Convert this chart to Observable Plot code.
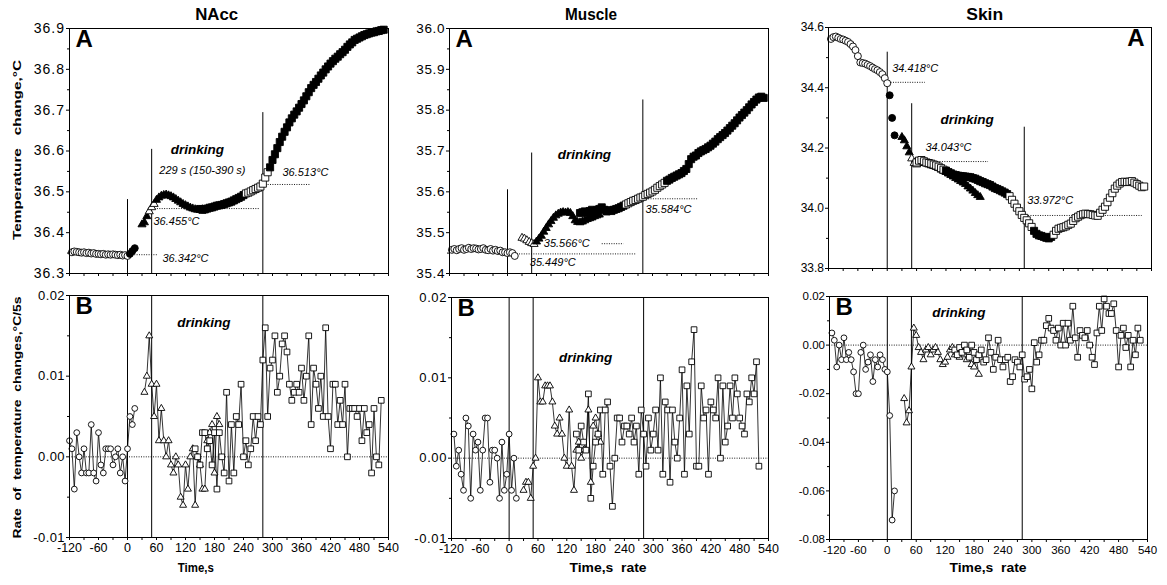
<!DOCTYPE html>
<html><head><meta charset="utf-8">
<script src="https://cdn.jsdelivr.net/npm/d3@7"></script>
<script src="https://cdn.jsdelivr.net/npm/@observablehq/plot@0.6"></script>
<style>
body{margin:0;background:#fff;}
#root{position:relative;width:1167px;height:585px;overflow:hidden;font-family:"Liberation Sans",Arial,sans-serif;}
#root > svg{position:absolute;}
</style></head><body><div id="root"></div>
<script>
const STEP = 5; // sampling interval (s)
const xTickLabels = [-120,-60,0,60,120,180,240,300,360,420,480,540];
const eventTimes = [0, 50, 280];

// ---------- NAcc, panel A (temperature, °C) ----------
const naccA_circleOpen = [36.352,36.354,36.353,36.352,36.351,36.352,36.350,36.351,36.349,36.350,36.348,36.348,36.347,36.348,36.346,36.347,36.346,36.347,36.346,36.345,36.346,36.344,36.345,36.343];
const naccA_circleFilled = [36.348,36.355,36.362];
const naccA_triFilled = [36.420,36.425,36.440];
const naccA_triOpen = [36.452,36.462,36.470];
const naccA_triFilled2 = [36.480,36.486,36.490,36.492,36.493,36.491,36.489,36.486,36.482,36.478,36.474,36.470,36.467,36.464,36.461,36.459,36.457,36.456,36.456,36.457];
const naccA_sqFilled = [36.458,36.456,36.457,36.459,36.461,36.462,36.464,36.466,36.467,36.468,36.470,36.472,36.474,36.476,36.479,36.482,36.485,36.488,36.492];
const naccA_sqOpen = [36.496,36.498,36.501,36.504,36.507,36.510,36.513,36.520,36.535,36.548];
const naccA_sqFilled2 = [36.560,36.578,36.592,36.607,36.622,36.635,36.647,36.658,36.670,36.680,36.689,36.697,36.706,36.715,36.724,36.734,36.744,36.754,36.762,36.769,36.777,36.785,36.792,36.800,36.807,36.814,36.820,36.826,36.831,36.837,36.842,36.848,36.855,36.861,36.866,36.872,36.875,36.878,36.881,36.884,36.886,36.888,36.890,36.891,36.893,36.894,36.896,36.897];

// ---------- Muscle, panel A ----------
const muscA_circleOpen = [35.458,35.460,35.457,35.460,35.462,35.458,35.460,35.463,35.460,35.462,35.461,35.459,35.460,35.462,35.458,35.457,35.460,35.456,35.458,35.455,35.456,35.452,35.452,35.450,35.452,35.450,35.443];
const muscA_triOpen = [35.487,35.485,35.481,35.477,35.474,35.472];
const muscA_triFilled = [35.478,35.485,35.492,35.502,35.511,35.520,35.528,35.536,35.542,35.546,35.549,35.550,35.549,35.550,35.548,35.540,35.530,35.526,35.525,35.527,35.530,35.533,35.535,35.537,35.540,35.542,35.544];
const muscA_sqFilled = [35.548,35.550,35.552,35.549,35.553,35.556,35.551,35.555,35.558,35.562,35.556,35.552,35.555,35.553,35.556,35.558,35.560,35.563,35.566];
const muscA_sqOpen = [35.569,35.572,35.575,35.578,35.580,35.583,35.586,35.588,35.592,35.595,35.598,35.601,35.605,35.610,35.614,35.618,35.622];
const muscA_sqFilled2 = [35.627,35.630,35.634,35.637,35.640,35.643,35.646,35.651,35.656,35.668,35.680,35.686,35.689,35.695,35.699,35.702,35.705,35.709,35.713,35.718,35.723,35.729,35.734,35.739,35.744,35.750,35.756,35.762,35.768,35.775,35.782,35.788,35.794,35.800,35.807,35.814,35.820,35.826,35.831,35.833,35.830];

// ---------- Skin, panel A ----------
const skinA_circleOpen = [34.562,34.568,34.570,34.566,34.562,34.560,34.556,34.552,34.545,34.537,34.525,34.505,34.484,34.482,34.480,34.476,34.472,34.467,34.462,34.458,34.452,34.445,34.432,34.415];
const skinA_circleFilled = [34.375,34.300,34.242];
const skinA_triFilled = [34.236,34.225,34.205,34.185];
const skinA_triOpen = [34.165,34.150,34.145];
const skinA_triFilled2 = [34.150,34.152,34.150,34.148,34.145,34.142,34.140,34.137,34.133,34.128,34.124,34.120,34.115,34.110,34.105,34.100,34.095,34.090,34.085,34.080,34.072,34.065,34.058,34.050,34.043,34.037];
const skinA_sqOpen = [34.152,34.158,34.160,34.156,34.152,34.150,34.148,34.145,34.142,34.138,34.133,34.128];
const skinA_sqFilled = [34.125,34.120,34.116,34.112,34.110,34.108,34.107,34.106,34.105,34.104,34.103,34.100,34.098,34.094,34.090,34.087,34.083,34.080,34.077,34.072,34.067,34.064,34.060,34.056,34.052,34.047];
const skinA_sqOpen2 = [34.040,34.028,34.015,34.002,33.990,33.978,33.968,33.960,33.950,33.938];
const skinA_sqFilled2 = [33.925,33.915,33.910,33.908,33.905,33.902,33.900,33.905];
const skinA_sqOpen3 = [33.912,33.925,33.932,33.935,33.937,33.940,33.945,33.949,33.958,33.967,33.972,33.977,33.980,33.982,33.981,33.980,33.978,33.976,33.975,33.985,33.995,34.005,34.020,34.035,34.050,34.065,34.075,34.082,34.087,34.088,34.087,34.088,34.090,34.085,34.080,34.075,34.070,34.072];

// ---------- panel B: rate of temperature change (°C / 5 s) ----------
const naccB_circles = [0.002,0.001,-0.004,0.003,0.000,-0.002,0.001,-0.002,-0.002,0.004,-0.002,-0.003,0.003,-0.001,-0.002,0.001,0.001,0.001,-0.001,0.000,0.001,-0.002,0.000,-0.003,0.001,0.005,0.004,0.006];
const naccB_triangles = [0.008,0.010,0.015,0.009,0.005,0.009,0.002,0.006,0.002,0.000,0.002,-0.001,-0.002,0.000,-0.001,-0.005,-0.006,-0.001,-0.004,0.000,0.001,-0.006,0.000,-0.001,-0.004,-0.004,0.002,0.003,0.004,-0.002,0.005,0.004];
const naccB_squares = [0.001,0.000,-0.001,0.003,0.003,0.001,0.002,-0.001,0.003,-0.004,0.003,0.000,-0.002,0.008,-0.003,0.004,-0.002,0.005,0.004,0.009,0.000,0.002,-0.001,0.001,0.005,0.002,0.005,0.004,0.012,0.016,0.005,0.011,0.012,0.015,0.008,0.010,0.014,0.015,0.013,0.009,0.007,0.008,0.009,0.008,0.011,0.007,0.010,0.015,0.004,0.011,0.009,0.006,0.010,0.005,0.016,0.005,0.001,0.009,0.009,0.004,0.007,0.004,0.009,0.000,0.006,0.006,0.006,0.005,0.006,0.002,0.006,0.003,0.004,-0.002,0.006,0.000,-0.001,0.007];

const muscB_circles = [0.003,-0.001,0.001,-0.002,-0.004,0.005,0.004,-0.005,0.003,0.001,0.002,-0.004,0.001,0.005,0.005,-0.003,0.001,0.001,0.000,-0.005,0.002,-0.004,-0.002,0.003,-0.004,0.000,-0.005];
const muscB_triangles = [-0.004,-0.003,-0.003,-0.005,-0.001,0.000,0.010,0.007,0.007,0.009,0.009,0.009,0.007,0.004,0.003,0.005,0.003,0.000,-0.001,0.006,-0.001,-0.004,0.001,0.002,0.000,0.001,0.001,0.006,-0.003,0.004,0.005,0.003,0.002];
const muscB_squares = [0.003,0.001,0.004,0.002,0.001,0.008,-0.005,-0.001,0.002,0.003,0.006,-0.002,0.006,0.007,-0.001,-0.006,0.000,0.005,0.005,0.002,0.004,0.004,0.003,0.005,0.002,0.004,-0.002,0.006,0.003,-0.001,0.005,0.001,0.003,0.006,0.001,0.010,-0.002,0.007,0.006,-0.003,0.006,0.002,0.000,0.005,0.011,-0.002,0.009,0.003,0.012,0.016,-0.001,-0.001,0.009,0.005,0.006,-0.002,0.007,0.006,0.005,0.010,0.000,0.009,0.002,0.004,0.009,0.005,0.010,0.008,0.005,0.004,0.003,0.008,0.007,0.010,0.008,0.012,-0.001];

const skinB_circles = [0.005,0.002,-0.009,0.000,-0.006,0.003,-0.006,-0.003,-0.006,-0.011,-0.020,-0.020,-0.003,0.000,-0.010,-0.007,-0.004,-0.015,-0.006,-0.009,-0.004,-0.006,-0.010,-0.011,-0.029,-0.072,-0.060];
const skinB_triangles = [-0.022,-0.032,-0.027,-0.009,0.007,0.004,-0.001,-0.003,-0.006,-0.002,-0.001,-0.004,-0.002,-0.001,-0.003,-0.006,-0.008,-0.007,-0.005,-0.002,-0.001,-0.004,-0.003,-0.005,-0.002,-0.004,-0.006,-0.003,-0.008,-0.009,-0.006,-0.012];
const skinB_squares = [-0.002,-0.004,-0.001,-0.003,0.000,-0.002,-0.005,0.000,-0.003,-0.006,-0.004,-0.002,-0.007,-0.006,0.003,-0.003,-0.010,-0.005,0.002,-0.006,-0.009,-0.006,-0.005,-0.015,-0.013,-0.006,-0.007,-0.009,-0.004,-0.014,-0.013,-0.010,-0.018,0.001,-0.007,-0.004,0.002,0.002,0.008,0.011,0.007,0.006,0.002,0.007,0.000,0.009,0.000,0.009,0.002,0.016,0.003,-0.005,0.006,0.004,0.003,0.006,0.000,-0.005,-0.008,0.005,0.016,0.006,0.019,0.016,0.013,0.013,0.017,0.006,-0.009,0.004,0.007,-0.001,0.004,-0.009,0.002,-0.004,0.007,0.002];

// ---------- annotations (data coordinates) ----------
const naccA_notes = [
  {t:144.8, v:36.604, s:"drinking", kind:"head"},
  {t:155, v:36.552, s:"229 s (150-390 s)", kind:"center"},
  {t:53.8, v:36.427, s:"36.455°C", kind:"note"},
  {t:72.4, v:36.337, s:"36.342°C", kind:"note"},
  {t:320.7, v:36.547, s:"36.513°C", kind:"note"}];
const muscA_notes = [
  {t:159.3, v:35.691, s:"drinking", kind:"head"},
  {t:285.5, v:35.557, s:"35.584°C", kind:"note"},
  {t:46.2, v:35.427, s:"35.449°C", kind:"note"},
  {t:75.1, v:35.473, s:"35.566°C", kind:"note"}];
const skinA_notes = [
  {t:163.4, v:34.294, s:"drinking", kind:"head"},
  {t:10.2, v:34.463, s:"34.418°C", kind:"note"},
  {t:78.2, v:34.203, s:"34.043°C", kind:"note"},
  {t:286, v:34.026, s:"33.972°C", kind:"note"}];
const naccB_notes = [{t:157.9, v:0.0166, s:"drinking", kind:"head"}];
const muscB_notes = [{t:159, v:0.0125, s:"drinking", kind:"head"}];
const skinB_notes = [{t:148.4, v:0.0133, s:"drinking", kind:"head"}];

const naccA_refs = [{v:36.346,a:0,b:62},{v:36.459,a:47,b:273},{v:36.518,a:281,b:378}];
const muscA_refs = [{v:35.448,a:0,b:268},{v:35.583,a:282,b:396},{v:35.473,a:196,b:241}];
const skinA_refs = [{v:34.418,a:3,b:78},{v:34.155,a:54,b:207},{v:33.976,a:279,b:521}];
const zeroRef = [{v:0,a:-120,b:540}];

const naccA_eventTops = [36.481, 36.604, 36.694];
const muscA_eventTops = [35.605, 35.695, 35.825];
const skinA_eventTops = [34.518, 34.347, 34.269];

const root = document.getElementById("root");
const FONT = "'Liberation Sans', Arial, sans-serif";
function pts(t0, vals){ return vals.map((v,i)=>({t:t0+STEP*i, v})); }
const dash = s => String(s).replace("\u2212","-");

function panel(cfg){
  const [x0,x1,y0,y1] = cfg.frame;
  const ml=50, mr=12, mt=8, mb=cfg.bottom?26:8;
  const marks = [];
  const yd = cfg.yDomain;
  if (cfg.eventTops) {
    marks.push(Plot.ruleX(eventTimes.map((t,i)=>({t, lo:yd[0], hi:cfg.eventTops[i]})), {x:"t", y1:"lo", y2:"hi", stroke:"black", strokeWidth:1}));
  } else {
    marks.push(Plot.ruleX(eventTimes, {stroke:"black", strokeWidth:1}));
  }
  marks.push(Plot.ruleY(cfg.refs, {y:"v", x1:"a", x2:"b", stroke:"black", strokeWidth:0.9, strokeDasharray:"1,1.4"}));
  for (const g of cfg.groups) {
    if (cfg.bottom) marks.push(Plot.line(pts(g[0], g[1]), {x:"t", y:"v", stroke:"black", strokeWidth:0.8}));
  }
  for (const g of cfg.groups) {
    const sym = g[2];
    const r = cfg.bottom ? ({circle:2.9, triangle:2.6, square:3.2})[sym] : ({circle:3.5, triangle:3.0, square:4.0})[sym];
    marks.push(Plot.dot(pts(g[0], g[1]), {x:"t", y:"v", symbol:sym, r, fill:g[3]?"black":"white", stroke:"black", strokeWidth:0.9}));
  }
  const notes = cfg.notes;
  marks.push(Plot.text(notes.filter(d=>d.kind==="head"), {x:"t", y:"v", text:"s", fontSize:13.5, fontWeight:"bold", fontStyle:"italic", textAnchor:"middle", fill:"black"}));
  marks.push(Plot.text(notes.filter(d=>d.kind==="center"), {x:"t", y:"v", text:"s", fontSize:11, fontStyle:"italic", textAnchor:"middle", fill:"black"}));
  marks.push(Plot.text(notes.filter(d=>d.kind==="note"), {x:"t", y:"v", text:"s", fontSize:11, fontStyle:"italic", textAnchor:"start", fill:"black"}));
  marks.push(Plot.text([cfg.letter], {text:d=>d, frameAnchor:cfg.letterRight?"top-right":"top-left", dx:cfg.letterRight?-7:6, dy:1, fontSize:24, fontWeight:"bold", fill:"black"}));
  marks.push(Plot.axisX(d3.range(-120, 541, 30), {tickSize:3, tickPadding:3, label:null,
    tickFormat: d => (cfg.bottom && xTickLabels.includes(d)) ? String(d) : ""}));
  marks.push(Plot.axisY(cfg.yTicks, {tickSize:3, tickPadding:1.5, label:null, tickFormat: d=>dash(d3.format(cfg.yFmt)(d))}));
  marks.push(Plot.axisY(cfg.yMinor, {tickSize:2, label:null, tickFormat: ()=>""}));
  marks.push(Plot.frame({stroke:"black", strokeWidth:1}));
  const svg = Plot.plot({
    width: x1-x0+ml+mr, height: y1-y0+mt+mb,
    marginLeft:ml, marginRight:mr, marginTop:mt, marginBottom:mb,
    x:{domain:[-120,540]}, y:{domain:yd},
    style:{fontFamily:FONT, background:"transparent", overflow:"visible", color:"black"},
    marks
  });
  // tick-label typography, as in the scan
  d3.select(svg).selectAll("text").each(function(){
    const g = this.closest("g[aria-label]");
    const lab = g ? g.getAttribute("aria-label") : "";
    if (lab.indexOf("y-axis tick label") >= 0) {
      this.style.fontSize = cfg.yFont + "px";
      this.style.letterSpacing = (cfg.ySpace || 0) + "px";
    } else if (lab.indexOf("x-axis tick label") >= 0) {
      this.style.fontSize = (cfg.xFont || 12.5) + "px";
      if (cfg.shiftFirst && this.textContent === "-120") this.setAttribute("dx", cfg.shiftFirst);
    }
  });
  svg.style.left = (x0-ml)+"px";
  svg.style.top = (y0-mt)+"px";
  root.appendChild(svg);
}

panel({frame:[69,388,28,273], yDomain:[36.3,36.9], yTicks:d3.range(0,7).map(i=>36.3+0.1*i), yMinor:d3.range(0,6).map(i=>36.35+0.1*i), yFmt:".1f", yFont:14, ySpace:1,
  groups:[[-115,naccA_circleOpen,"circle",false],[5,naccA_circleFilled,"circle",true],[30,naccA_triFilled,"triangle",true],[45,naccA_triOpen,"triangle",false],[60,naccA_triFilled2,"triangle",true],[150,naccA_sqFilled,"square",true],[245,naccA_sqOpen,"square",false],[295,naccA_sqFilled2,"square",true]],
  refs:naccA_refs, notes:naccA_notes, eventTops:naccA_eventTops, letter:"A"});
panel({frame:[449,768,28,273], yDomain:[35.4,36.0], yTicks:d3.range(0,7).map(i=>35.4+0.1*i), yMinor:d3.range(0,6).map(i=>35.45+0.1*i), yFmt:".1f", yFont:13.5, ySpace:0.6,
  groups:[[-115,muscA_circleOpen,"circle",false],[30,muscA_triOpen,"triangle",false],[60,muscA_triFilled,"triangle",true],[150,muscA_sqFilled,"square",true],[245,muscA_sqOpen,"square",false],[330,muscA_sqFilled2,"square",true]],
  refs:muscA_refs, notes:muscA_notes, eventTops:muscA_eventTops, letter:"A"});
panel({frame:[828,1151,27,268], yDomain:[33.8,34.6], yTicks:d3.range(0,5).map(i=>33.8+0.2*i), yMinor:d3.range(0,4).map(i=>33.9+0.2*i), yFmt:".1f", yFont:12, ySpace:0,
  groups:[[-115,skinA_circleOpen,"circle",false],[5,skinA_circleFilled,"circle",true],[30,skinA_triFilled,"triangle",true],[50,skinA_triOpen,"triangle",false],[65,skinA_triFilled2,"triangle",true],[60,skinA_sqOpen,"square",false],[120,skinA_sqFilled,"square",true],[250,skinA_sqOpen2,"square",false],[300,skinA_sqFilled2,"square",true],[340,skinA_sqOpen3,"square",false]],
  refs:skinA_refs, notes:skinA_notes, eventTops:skinA_eventTops, letter:"A", letterRight:true});

panel({frame:[69,388,295,537], bottom:true, yDomain:[-0.01,0.02], yTicks:[-0.01,0,0.01,0.02], yMinor:[-0.005,0.005,0.015], yFmt:".2f", yFont:13, ySpace:0.4,
  groups:[[-120,naccB_circles,"circle",false],[35,naccB_triangles,"triangle",false],[140,naccB_squares,"square",false]],
  refs:zeroRef, notes:naccB_notes, letter:"B"});
panel({frame:[451,768,297,538], bottom:true, yDomain:[-0.01,0.02], yTicks:[-0.01,0,0.01,0.02], yMinor:[-0.005,0.005,0.015], yFmt:".2f", yFont:13, ySpace:0.6,
  groups:[[-115,muscB_circles,"circle",false],[30,muscB_triangles,"triangle",false],[140,muscB_squares,"square",false]],
  refs:zeroRef, notes:muscB_notes, letter:"B"});
panel({frame:[829,1147,296,539], bottom:true, yDomain:[-0.08,0.02], yTicks:[-0.08,-0.06,-0.04,-0.02,0,0.02], yMinor:[-0.07,-0.05,-0.03,-0.01,0.01], yFmt:".2f", yFont:11.5, ySpace:0, xFont:11.5, shiftFirst:5,
  groups:[[-115,skinB_circles,"circle",false],[35,skinB_triangles,"triangle",false],[140,skinB_squares,"square",false]],
  refs:zeroRef, notes:skinB_notes, letter:"B"});

// ---------- titles and axis titles ----------
const titles = [
  {s:"NAcc", x:216.7, y:20, len:43, size:16.5, rot:false},
  {s:"Muscle", x:591, y:20, len:52, size:16.5, rot:false},
  {s:"Skin", x:984.7, y:20, len:37, size:16.5, rot:false},
  {s:"Time,s", x:195.8, y:572, len:36, size:12.5, rot:false},
  {s:"Time,s  rate", x:608, y:572, len:77, size:12.5, rot:false},
  {s:"Time,s  rate", x:988, y:572, len:77, size:12.5, rot:false},
  {s:"Temperature   change,°C", x:21, y:150, len:180, size:11.5, rot:true},
  {s:"Rate  of  temperature  changes,°C/5s", x:21, y:417.5, len:242, size:11.5, rot:true}
];
const ov = d3.create("svg").attr("width",1167).attr("height",585).style("left","0px").style("top","0px").style("pointer-events","none");
ov.selectAll("text").data(titles).join("text")
  .attr("transform", d => `translate(${d.x},${d.y})` + (d.rot ? " rotate(-90)" : ""))
  .attr("text-anchor","middle")
  .attr("font-family", FONT).attr("font-weight","bold").attr("font-size", d=>d.size)
  .attr("textLength", d=>d.len).attr("lengthAdjust","spacingAndGlyphs")
  .style("white-space","pre")
  .text(d=>d.s);
root.appendChild(ov.node());
</script></body></html>
